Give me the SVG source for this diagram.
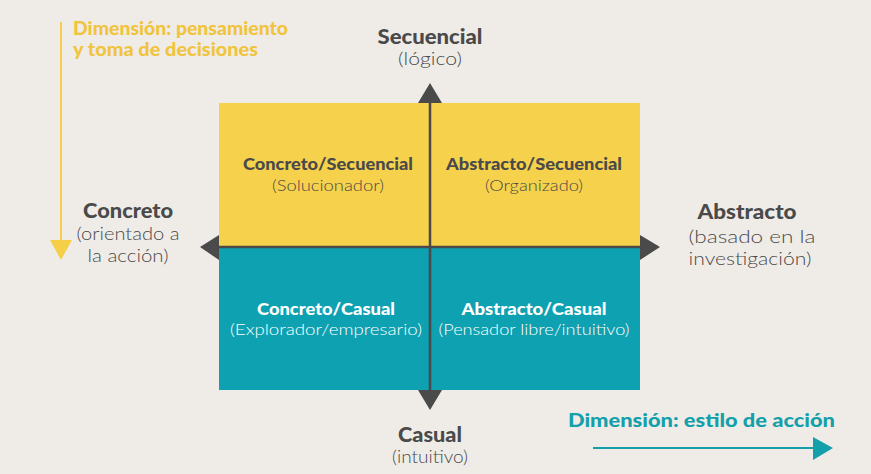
<svg xmlns="http://www.w3.org/2000/svg" width="871" height="474" viewBox="0 0 871 474">
<style>
.b{font-family:Lato,"Open Sans","DejaVu Sans",sans-serif;font-weight:900;fill:#4a4a4a;text-anchor:middle}
.l{font-family:Lato,"Open Sans","DejaVu Sans",sans-serif;font-weight:300;fill:#4a4a4a;text-anchor:middle}
.w{fill:#ffffff}
.ax{stroke:#4a4a4a;stroke-width:2.5;fill:none}
.hd{fill:#4a4a4a}
</style>
<rect width="871" height="474" fill="#efece8"/>
<g id="q-concreto-secuencial">
<rect x="219" y="103" width="211" height="144" fill="#f6d14b"/>
<text class="b" x="328" y="170" font-size="16" textLength="170" lengthAdjust="spacingAndGlyphs">Concreto/Secuencial</text>
<text class="l" x="328" y="191" font-size="16" textLength="112" lengthAdjust="spacingAndGlyphs">(Solucionador)</text>
</g>
<g id="q-abstracto-secuencial">
<rect x="430" y="103" width="210" height="144" fill="#f6d14b"/>
<text class="b" x="534" y="170" font-size="16" textLength="176" lengthAdjust="spacingAndGlyphs">Abstracto/Secuencial</text>
<text class="l" x="534" y="191" font-size="16" textLength="98" lengthAdjust="spacingAndGlyphs">(Organizado)</text>
</g>
<g id="q-concreto-casual">
<rect x="219" y="247" width="211" height="143" fill="#0ea1b1"/>
<text class="b w" x="326" y="315" font-size="16" textLength="138" lengthAdjust="spacingAndGlyphs">Concreto/Casual</text>
<text class="l w" x="326" y="335" font-size="16" textLength="192" lengthAdjust="spacingAndGlyphs">(Explorador/empresario)</text>
</g>
<g id="q-abstracto-casual">
<rect x="430" y="247" width="210" height="143" fill="#0ea1b1"/>
<text class="b w" x="534" y="315" font-size="16" textLength="145" lengthAdjust="spacingAndGlyphs">Abstracto/Casual</text>
<text class="l w" x="534" y="335" font-size="16" textLength="191" lengthAdjust="spacingAndGlyphs">(Pensador libre/intuitivo)</text>
</g>
<g id="connectors">
<line class="ax" x1="430" y1="100" x2="430" y2="393"/>
<line class="ax" x1="216" y1="247" x2="643" y2="247"/>
<polygon class="hd" points="430,83 442,103 418,103"/>
<polygon class="hd" points="430,410 442,390 418,390"/>
<polygon class="hd" points="200,247 219,235 219,260"/>
<polygon class="hd" points="660,247 640,235 640,260"/>
<line x1="61" y1="22" x2="61" y2="242" stroke="#f5cf47" stroke-width="2"/>
<polygon points="50,240 72,240 61,260" fill="#f5cf47"/>
<line x1="593" y1="448" x2="815" y2="448" stroke="#13a0ab" stroke-width="2"/>
<polygon points="813,437 833,448 813,460" fill="#13a0ab"/>
</g>
<g id="label-secuencial">
<text class="b" x="430" y="44" font-size="20" textLength="105" lengthAdjust="spacingAndGlyphs">Secuencial</text>
<text class="l" x="430" y="65" font-size="17" textLength="64" lengthAdjust="spacingAndGlyphs">(lógico)</text>
</g>
<g id="label-concreto">
<text class="b" x="128" y="218" font-size="20" textLength="90" lengthAdjust="spacingAndGlyphs">Concreto</text>
<text class="l" x="128" y="240" font-size="17.5" textLength="103" lengthAdjust="spacingAndGlyphs">(orientado a</text>
<text class="l" x="128" y="262" font-size="17.5" textLength="81" lengthAdjust="spacingAndGlyphs">la acción)</text>
</g>
<g id="label-abstracto">
<text class="b" x="747" y="219" font-size="20" textLength="99" lengthAdjust="spacingAndGlyphs">Abstracto</text>
<text class="l" x="752" y="243" font-size="17.5" textLength="127" lengthAdjust="spacingAndGlyphs">(basado en la</text>
<text class="l" x="750" y="265" font-size="17.5" textLength="123" lengthAdjust="spacingAndGlyphs">investigación)</text>
</g>
<g id="label-casual">
<text class="b" x="430" y="442" font-size="20" textLength="64" lengthAdjust="spacingAndGlyphs">Casual</text>
<text class="l" x="430" y="463" font-size="17" textLength="76" lengthAdjust="spacingAndGlyphs">(intuitivo)</text>
</g>
<g id="dim-pensamiento">
<text class="b" x="73" y="35" font-size="18" textLength="215" lengthAdjust="spacingAndGlyphs" style="text-anchor:start;fill:#f0c43c">Dimensión: pensamiento</text>
<text class="b" x="73" y="56" font-size="18" textLength="185" lengthAdjust="spacingAndGlyphs" style="text-anchor:start;fill:#f0c43c">y toma de decisiones</text>
</g>
<g id="dim-accion">
<text class="b" x="568" y="427" font-size="19.5" textLength="267" lengthAdjust="spacingAndGlyphs" style="text-anchor:start;fill:#13a0ab">Dimensión: estilo de acción</text>
</g>
</svg>
